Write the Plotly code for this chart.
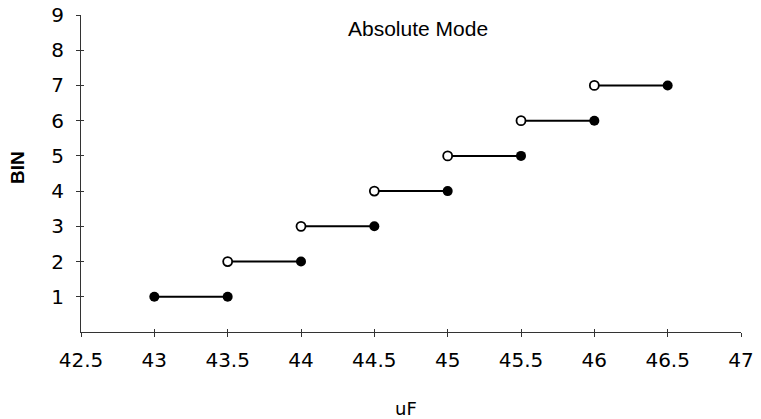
import plotly.graph_objects as go

# BIN intervals in uF
bins = [1, 2, 3, 4, 5, 6, 7]
lower_uf = [43.0, 43.5, 44.0, 44.5, 45.0, 45.5, 46.0]
upper_uf = [43.5, 44.0, 44.5, 45.0, 45.5, 46.0, 46.5]
lower_closed = [True, False, False, False, False, False, False]

x_ticks = [42.5, 43, 43.5, 44, 44.5, 45, 45.5, 46, 46.5, 47]
x_labels = ["42.5", "43", "43.5", "44", "44.5", "45", "45.5", "46", "46.5", "47"]
y_ticks = [1, 2, 3, 4, 5, 6, 7, 8, 9]

# line segments, separated by None
seg_x, seg_y = [], []
for b, lo, hi in zip(bins, lower_uf, upper_uf):
    seg_x += [lo, hi, None]
    seg_y += [b, b, None]

fig = go.Figure()
fig.add_trace(go.Scatter(x=seg_x, y=seg_y, mode="lines",
                         line=dict(color="black", width=2), hoverinfo="skip"))

# closed ends (filled)
fx = upper_uf + [lo for lo, c in zip(lower_uf, lower_closed) if c]
fy = bins + [b for b, c in zip(bins, lower_closed) if c]
fig.add_trace(go.Scatter(x=fx, y=fy, mode="markers",
                         marker=dict(color="black", size=10)))

# open ends
ox = [lo for lo, c in zip(lower_uf, lower_closed) if not c]
oy = [b for b, c in zip(bins, lower_closed) if not c]
fig.add_trace(go.Scatter(x=ox, y=oy, mode="markers",
                         marker=dict(color="white", size=9,
                                     line=dict(color="black", width=1.8))))

# empty trace on overlay axes (for the inner half of the crossing ticks)
fig.add_trace(go.Scatter(x=[None], y=[None], xaxis="x2", yaxis="y2", hoverinfo="skip"))

tick_font = dict(family="DejaVu Sans", size=20, color="black")
axis_common = dict(showgrid=False, zeroline=False, showline=True,
                   linecolor="#333333", linewidth=1,
                   ticks="outside", ticklen=4, tickcolor="#333333",
                   tickfont=tick_font, automargin=False,
                   ticklabeloverflow="allow")

fig.update_layout(
    width=761, height=419,
    margin=dict(l=81, r=20, t=15, b=87),
    plot_bgcolor="white", paper_bgcolor="white",
    showlegend=False,
    xaxis=dict(range=[42.5, 47], tickvals=x_ticks, ticktext=x_labels,
               ticklabelstandoff=6, **axis_common),
    yaxis=dict(range=[0, 9], tickvals=y_ticks, ticklabelstandoff=8, **axis_common),
    xaxis2=dict(range=[42.5, 47], tickvals=x_ticks, overlaying="x", showticklabels=False,
                showgrid=False, zeroline=False, showline=False,
                ticks="inside", ticklen=3, tickcolor="#333333"),
    yaxis2=dict(range=[0, 9], tickvals=y_ticks, overlaying="y", showticklabels=False,
                showgrid=False, zeroline=False, showline=False,
                ticks="inside", ticklen=3, tickcolor="#333333"),
)

# convert screenshot pixels to paper coordinates
def px_x(p):
    return (p - 81) / (741 - 81)

def px_y(p):
    return 1 - (p - 15) / (332 - 15)

fig.add_annotation(text="Absolute Mode", x=px_x(418), y=px_y(29),
                   xref="paper", yref="paper", showarrow=False,
                   xanchor="center", yanchor="middle",
                   font=dict(family="Liberation Sans", size=21, color="black"))
fig.add_annotation(text="uF", x=px_x(406), y=px_y(408),
                   xref="paper", yref="paper", showarrow=False,
                   xanchor="center", yanchor="middle",
                   font=dict(family="DejaVu Sans", size=18, color="black"))
fig.add_annotation(text="<b>BIN</b>", x=px_x(17), y=px_y(168), textangle=-90,
                   xref="paper", yref="paper", showarrow=False,
                   xanchor="center", yanchor="middle",
                   font=dict(family="Liberation Sans", size=19, color="black"))

# drop the default page margin so the figure sits at the window corner
fig.write_html("out.html", config={"displayModeBar": False},
               post_script="document.body.style.margin = '0';")
